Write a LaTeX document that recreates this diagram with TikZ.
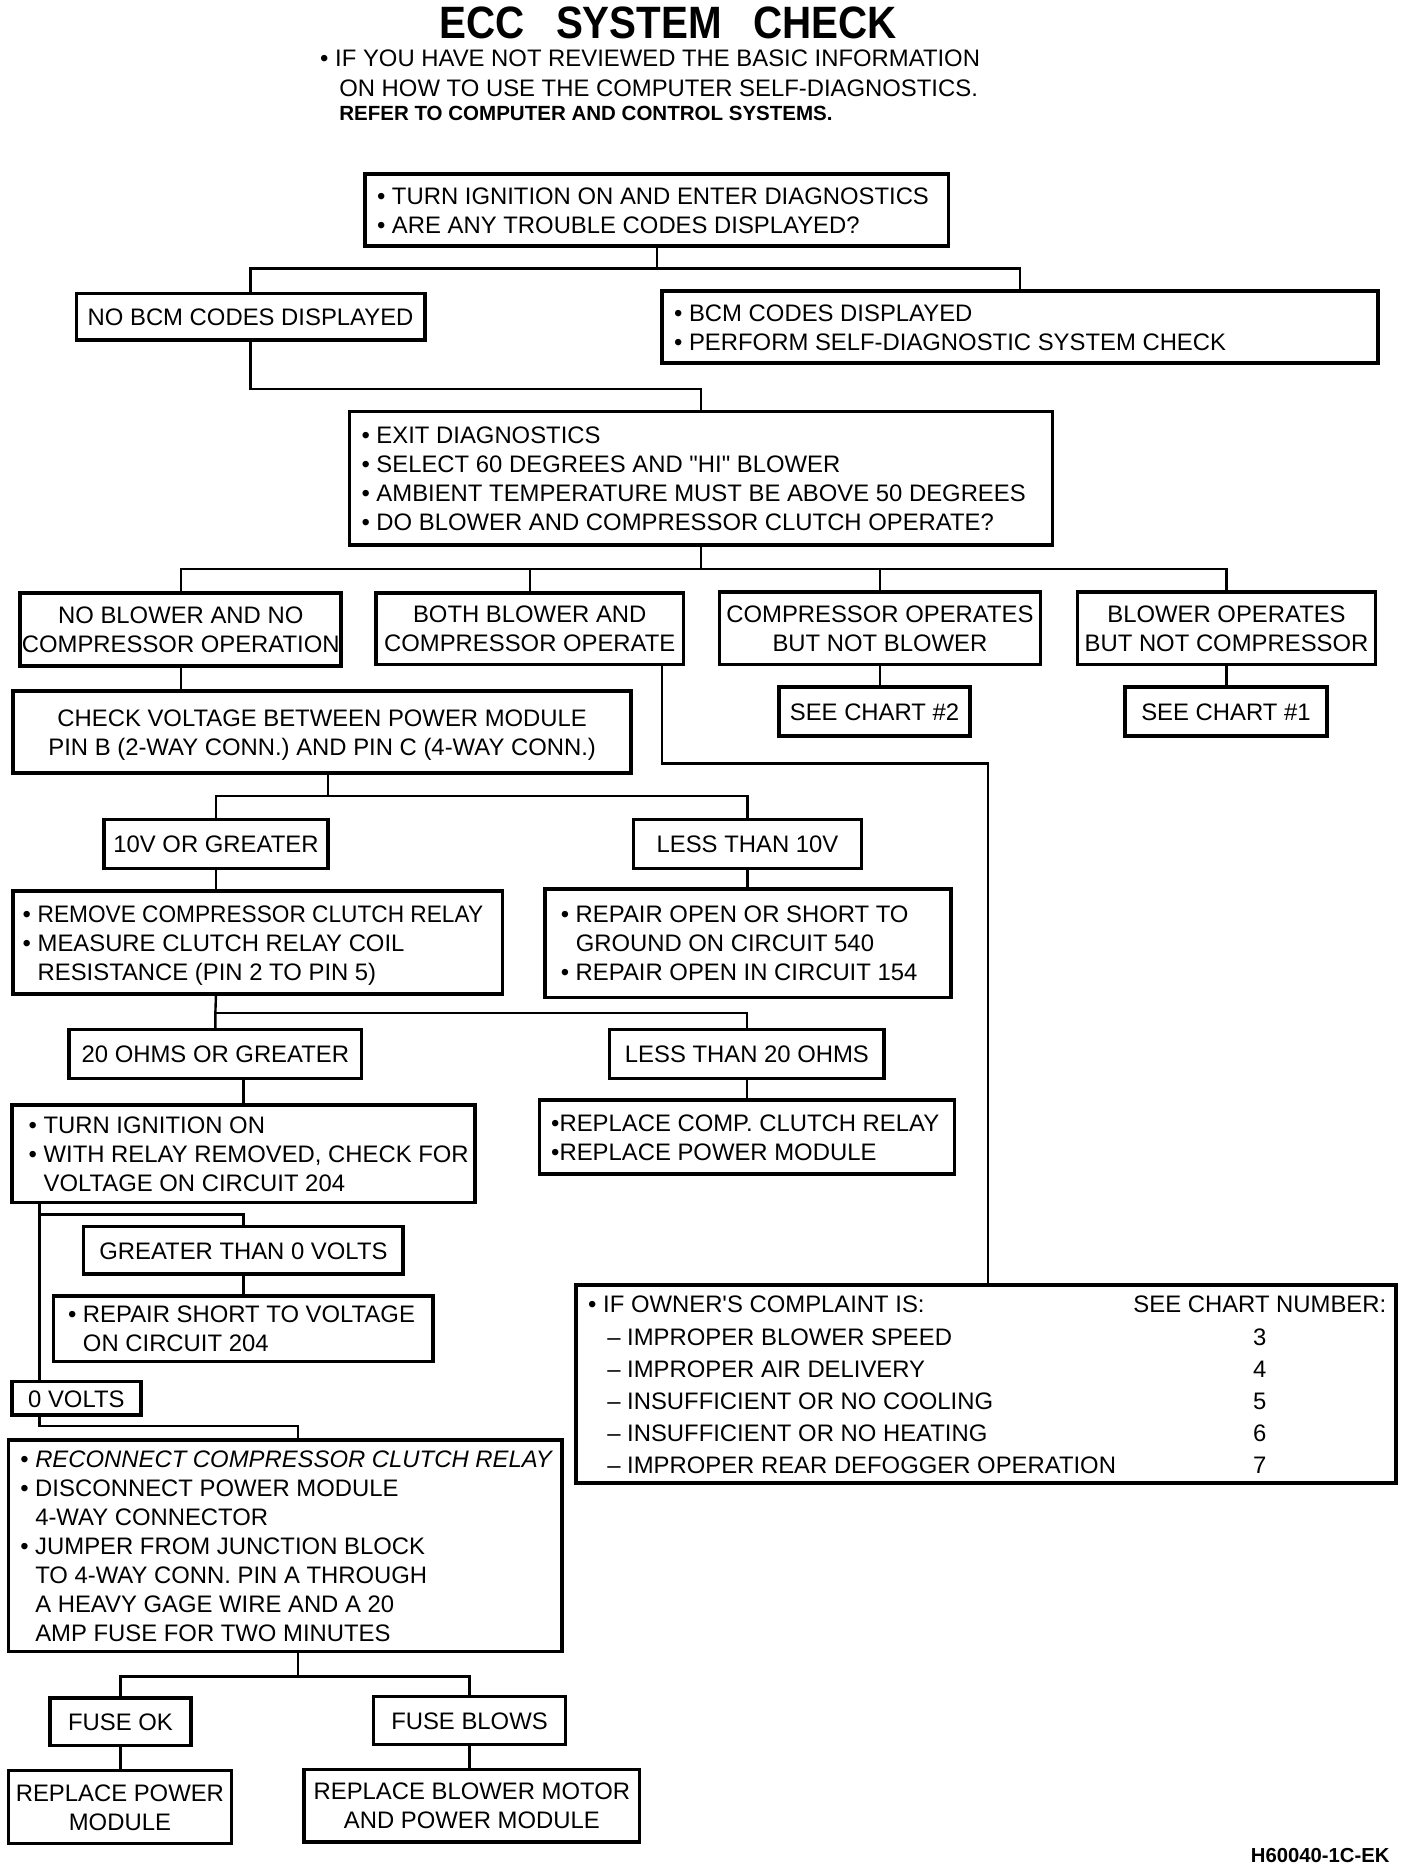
\documentclass[tikz,border=0pt]{standalone}
\usepackage{fontspec}
\setmainfont{Liberation Sans}
\newfontfamily\plainfont{Liberation Sans}
\begin{document}
\newcommand{\flowbox}[8]{%
 \pgfmathsetmacro{\bxw}{(#4-#2)*0.5}%
 \pgfmathsetmacro{\bxh}{(#5-#3)*0.5}%
 \pgfmathsetmacro{\bxt}{(#4-#2-2*#6)*0.5}%
 \node[boxst, minimum width=\bxw pt, minimum height=\bxh pt] (#1) at ({(#2+#4)/2},{(#3+#5)/2}) {\raisebox{-1.2pt}[\height][\depth]{\makebox[\bxt pt][#7]{\begin{tabular}{@{}#7@{}}#8\end{tabular}}}};}
\newcommand{\bl}{\textbullet\ }
\newcommand{\ind}{\hphantom{\textbullet\ }}
\newcommand{\sq}{{\plainfont "}}
\newcommand{\ap}{{\plainfont '}}
\begin{tikzpicture}[x=0.5pt,y=-0.5pt,
  boxst/.style={draw, line width=1.5pt, inner sep=0pt, font=\fontsize{10}{12.15}\selectfont},
  ln/.style={line width=1pt},
  txt/.style={inner sep=0pt, font=\fontsize{10}{12}\selectfont}]
\useasboundingbox[fill=white] (0,0) rectangle (1180,1569);
% title
\node[inner sep=0pt, font=\fontsize{19}{19}\selectfont\bfseries] (title) at (560,19) {\scalebox{0.89}[1]{ECC\hspace{0.5em} SYSTEM\hspace{0.5em} CHECK}};
\node[txt, anchor=west] (s1) at (268,49) {\bl IF YOU HAVE NOT REVIEWED THE BASIC INFORMATION};
\node[txt, anchor=west] (s2) at (284,74) {ON HOW TO USE THE COMPUTER SELF-DIAGNOSTICS.};
\node[inner sep=0pt, anchor=west, font=\fontsize{8.6}{10}\selectfont\bfseries] (s3) at (284,95) {REFER TO COMPUTER AND CONTROL SYSTEMS.};
% boxes
\flowbox{b1}{306}{146}{795}{206}{10}{l}{\bl TURN IGNITION ON AND ENTER DIAGNOSTICS\\ \bl ARE ANY TROUBLE CODES DISPLAYED?}
\flowbox{b2}{64}{246}{356}{285}{0}{c}{NO BCM CODES DISPLAYED}
\flowbox{b3}{555}{244}{1155}{304}{10}{l}{\bl BCM CODES DISPLAYED\\ \bl PERFORM SELF-DIAGNOSTIC SYSTEM CHECK}
\flowbox{b4}{293}{345}{882}{457}{10}{l}{\bl EXIT DIAGNOSTICS\\ \bl SELECT 60 DEGREES AND \sq HI\sq\ BLOWER\\ \bl AMBIENT TEMPERATURE MUST BE ABOVE 50 DEGREES\\ \bl DO BLOWER AND COMPRESSOR CLUTCH OPERATE?}
\flowbox{b5}{17}{497}{286}{558}{0}{c}{NO BLOWER AND NO\\ COMPRESSOR OPERATION}
\flowbox{b6}{315}{497}{573}{557}{0}{c}{BOTH BLOWER AND\\ COMPRESSOR OPERATE}
\flowbox{b7}{603}{496}{872}{557}{0}{c}{COMPRESSOR OPERATES\\ BUT NOT BLOWER}
\flowbox{b8}{903}{496}{1153}{557}{0}{c}{BLOWER OPERATES\\ BUT NOT COMPRESSOR}
\flowbox{c2}{653}{576}{813}{617}{0}{c}{SEE CHART \#2}
\flowbox{c1}{943}{576}{1112}{617}{0}{c}{SEE CHART \#1}
\flowbox{b9}{11}{579}{529}{648}{0}{c}{CHECK VOLTAGE BETWEEN POWER MODULE\\ PIN B (2-WAY CONN.) AND PIN C (4-WAY CONN.)}
\flowbox{b10}{87}{687}{275}{728}{0}{c}{10V OR GREATER}
\flowbox{b11}{531}{687}{722}{728}{0}{c}{LESS THAN 10V}
\flowbox{b12}{11}{747}{421}{833}{8}{l}{\bl \scalebox{0.95}[1]{REMOVE COMPRESSOR CLUTCH RELAY}\\ \bl MEASURE CLUTCH RELAY COIL\\ \ind RESISTANCE (PIN 2 TO PIN 5)}
\flowbox{b13}{457}{745}{797}{836}{13}{l}{\bl REPAIR OPEN OR SHORT TO\\ \ind GROUND ON CIRCUIT 540\\ \bl REPAIR OPEN IN CIRCUIT 154}
\flowbox{b14}{58}{863}{303}{904}{0}{c}{20 OHMS OR GREATER}
\flowbox{b15}{511}{863}{741}{904}{0}{c}{LESS THAN 20 OHMS}
\flowbox{b16}{452}{922}{800}{984}{10}{l}{\textbullet REPLACE COMP. CLUTCH RELAY\\ \textbullet REPLACE POWER MODULE}
\flowbox{b17}{10}{926}{398}{1008}{14}{l}{\bl TURN IGNITION ON\\ \bl WITH RELAY REMOVED, CHECK FOR\\ \ind VOLTAGE ON CIRCUIT 204}
\flowbox{b18}{70}{1028}{338}{1068}{0}{c}{GREATER THAN 0 VOLTS}
\flowbox{b19}{45}{1086}{363}{1141}{12}{l}{\bl REPAIR SHORT TO VOLTAGE\\ \ind ON CIRCUIT 204}
\flowbox{b20}{10}{1158}{118}{1186}{0}{c}{0 VOLTS}
\flowbox{b21}{7}{1207}{471}{1384}{10}{l}{\bl \itshape RECONNECT COMPRESSOR CLUTCH RELAY\\ \bl DISCONNECT POWER MODULE\\ \ind 4-WAY CONNECTOR\\ \bl JUMPER FROM JUNCTION BLOCK\\ \ind TO 4-WAY CONN. PIN A THROUGH\\ \ind A HEAVY GAGE WIRE AND A 20\\ \ind AMP FUSE FOR TWO MINUTES}
\flowbox{b22}{42}{1423}{160}{1463}{0}{c}{FUSE OK}
\flowbox{b23}{313}{1422}{474}{1462}{0}{c}{FUSE BLOWS}
\flowbox{b24}{7}{1484}{194}{1545}{0}{c}{REPLACE POWER\\ MODULE}
\flowbox{b25}{255}{1483}{536}{1544}{0}{c}{REPLACE BLOWER MOTOR\\ AND POWER MODULE}
% owner box
\node[boxst, minimum width=343.5pt, minimum height=83pt] (own) at (826.5,1160) {\raisebox{-1.2pt}[\height][\depth]{\makebox[333.5pt][l]{\fontsize{10}{13.5}\selectfont\begin{tabular}{@{}p{228.5pt}@{}c@{}}
\bl IF OWNER\ap S COMPLAINT IS: & SEE CHART NUMBER:\\
\hspace{8pt}– IMPROPER BLOWER SPEED & 3\\
\hspace{8pt}– IMPROPER AIR DELIVERY & 4\\
\hspace{8pt}– INSUFFICIENT OR NO COOLING & 5\\
\hspace{8pt}– INSUFFICIENT OR NO HEATING & 6\\
\hspace{8pt}– IMPROPER REAR DEFOGGER OPERATION & 7
\end{tabular}}}};
\node[inner sep=0pt, anchor=east, font=\fontsize{8.5}{10}\selectfont\bfseries] (foot) at (1165,1555) {H60040-1C-EK};
% connectors
\draw[ln] (b1.south) -- (b1.south |- 0,225) coordinate (j1);
\draw[ln] (b2.north) |- (j1) -| (b3.north);
\draw[ln] (b2.south) -- (b2.south |- 0,326) coordinate (j2) -| (b4.north);
\draw[ln] (b4.south) -- (b4.south |- 0,477) coordinate (j3);
\draw[ln] (b5.north) |- (j3) -| (b8.north);
\draw[ln] (b6.north) -- (b6.north |- j3);
\draw[ln] (b7.north) -- (b7.north |- j3);
\draw[ln] (b7.south) -- (b7.south |- c2.north);
\draw[ln] (b8.south) -- (b8.south |- c1.north);
\draw[ln] (b6.south -| 555,0) |- (828,640) coordinate (j4) -- (j4 |- own.north);
\draw[ln] (b5.south) -- (b5.south |- b9.north);
\draw[ln] (b9.south -| 275,0) -- (275,667) coordinate (j5);
\draw[ln] (b10.north) |- (j5) -| (b11.north);
\draw[ln] (b10.south) -- (b10.south |- b12.north);
\draw[ln] (b11.south) -- (b11.south |- b13.north);
\draw[ln] (b12.south -| b10.south) -- (b14.north |- 0,849) coordinate (j6) -- (b14.north);
\draw[ln] (j6) -| (b15.north);
\draw[ln] (b15.south) -- (b15.south |- b16.north);
\draw[ln] (b14.south -| b18.north) -- (b18.north |- b17.north);
\draw[ln] (b17.south -| 33,0) coordinate (k1) -- (k1 |- b20.north);
\draw[ln] (33,1018) coordinate (j8) -| (b18.north);
\draw[ln] (b18.south) -- (b18.south |- b19.north);
\draw[ln] (b20.south -| 33,0) |- (250,1195) coordinate (j9) -- (j9 |- b21.north);
\draw[ln] (b21.south -| 250,0) -- (250,1405) coordinate (j10);
\draw[ln] (b22.north) |- (j10) -| (b23.north);
\draw[ln] (b22.south) -- (b22.south |- b24.north);
\draw[ln] (b23.south) -- (b23.south |- b25.north);
\end{tikzpicture}
\end{document}
